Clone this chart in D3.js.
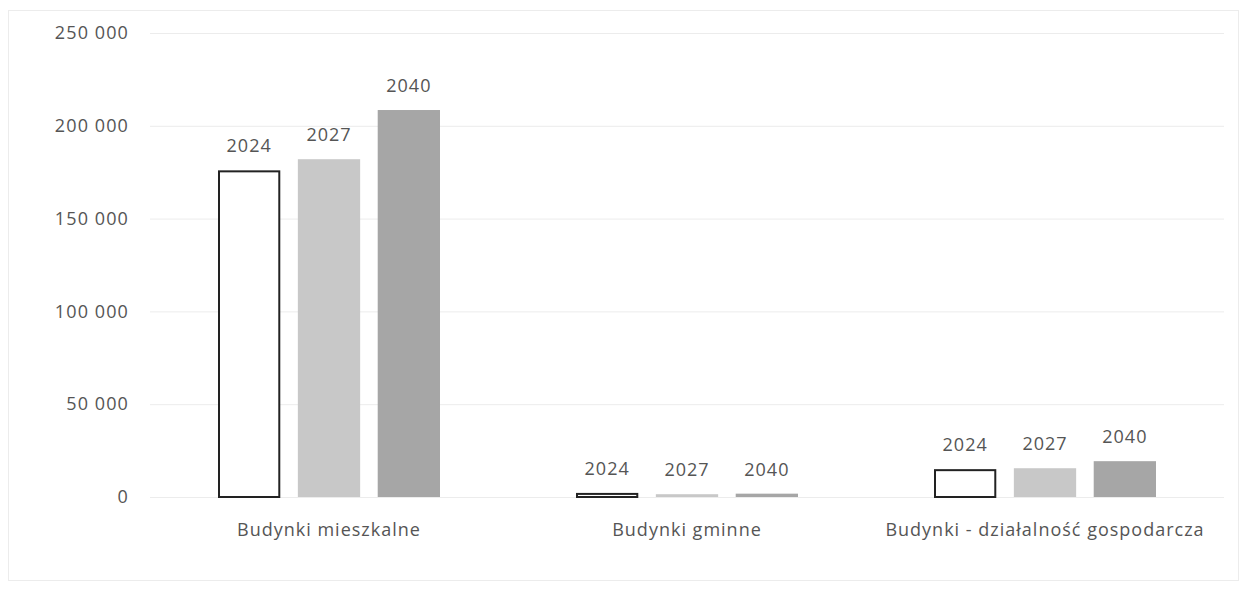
<!DOCTYPE html>
<html><head><meta charset="utf-8">
<script src="https://cdn.jsdelivr.net/npm/d3@7"></script>
<style>
body{margin:0;background:#fff;}
text{font-family:"Open Sans",sans-serif;fill:#555;}
</style></head>
<body><svg id="c" width="1246" height="595"></svg>
<script>
const categories = ["Budynki mieszkalne","Budynki gminne","Budynki - działalność gospodarcza"];
const years = ["2024","2027","2040"];
const v2024 = [176000, 2200, 15000];
const v2027 = [182000, 1500, 15500];
const v2040 = [208500, 1800, 19300];
const yTicks = [0,50000,100000,150000,200000,250000];
const yTickLabels = ["0","50 000","100 000","150 000","200 000","250 000"];

const series = [v2024, v2027, v2040];
const fills = ["#ffffff","#c8c8c8","#a6a6a6"];
const strokes = ["#222","none","none"];

const svg = d3.select("#c");
svg.append("rect").attr("x",8.5).attr("y",10.5).attr("width",1230).attr("height",570)
  .attr("fill","none").attr("stroke","#ececec");

const m = {l:150, r:1224, t:33, b:497};
const x = d3.scaleBand().domain(categories).range([m.l,m.r]).paddingInner(0).paddingOuter(0);
const x1 = d3.scaleBand().domain(years).range([68, x.bandwidth()-68]).paddingInner(0.22).paddingOuter(0);
const y = d3.scaleLinear().domain([0,250000]).range([m.b,m.t]);

const g = svg.append("g");
g.selectAll("line.grid").data(yTicks).join("line")
  .attr("x1",m.l).attr("x2",m.r).attr("y1",d=>y(d)+0.5).attr("y2",d=>y(d)+0.5)
  .attr("stroke","#ececec").attr("stroke-width",1);

const ax = d3.axisLeft(y).tickValues(yTicks).tickFormat((d,i)=>yTickLabels[i]).tickSize(0).tickPadding(21);
const axg = svg.append("g").attr("transform",`translate(${m.l},0)`).call(ax);
axg.select(".domain").remove();
axg.selectAll("text").style("font-size","18px").style("letter-spacing","1.1px").attr("fill","#555");

years.forEach((yr,si)=>{
  const data = categories.map((c,ci)=>({c, v: series[si][ci]}));
  const sw = strokes[si]==="none"?0:2;
  g.selectAll(null).data(data).join("rect")
    .attr("x",d=>x(d.c)+x1(yr)+sw/2)
    .attr("y",d=>y(d.v)+sw/2)
    .attr("width",x1.bandwidth()-sw)
    .attr("height",d=>Math.max(0,y(0)-y(d.v)-sw/2))
    .attr("fill",fills[si]).attr("stroke",strokes[si]).attr("stroke-width",sw);
  g.selectAll(null).data(data).join("text")
    .attr("x",d=>x(d.c)+x1(yr)+x1.bandwidth()/2)
    .attr("y",d=>y(d.v)-18)
    .attr("text-anchor","middle").style("font-size","18px").style("letter-spacing","1px")
    .text(yr);
});

const xa = d3.axisBottom(x).tickSize(0).tickPadding(26);
const xg = svg.append("g").attr("transform",`translate(0,${m.b})`).call(xa);
xg.select(".domain").remove();
xg.selectAll("text").style("font-size","18px").style("letter-spacing","1px").attr("fill","#555");
</script></body></html>
